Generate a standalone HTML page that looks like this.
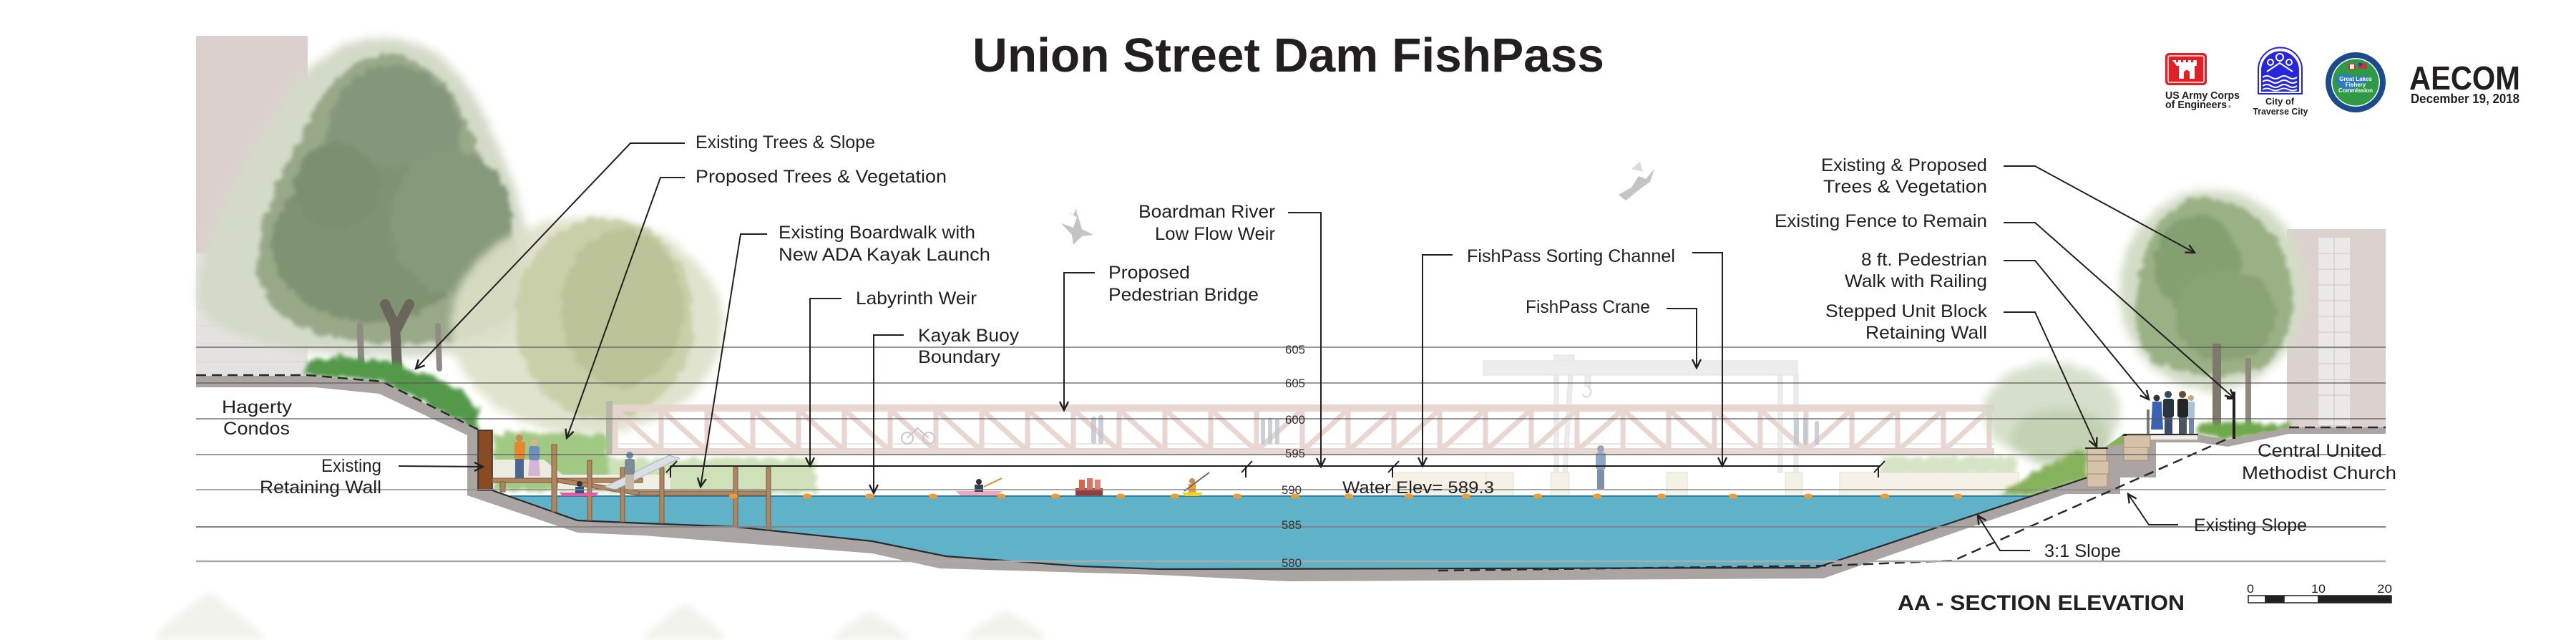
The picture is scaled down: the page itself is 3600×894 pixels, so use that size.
<!DOCTYPE html>
<html><head><meta charset="utf-8"><style>
html,body{margin:0;padding:0;background:#fff;}
body{width:3600px;height:894px;overflow:hidden;}
svg{display:block;}
text{font-family:"Liberation Sans",sans-serif;fill:#231f20;}
.l{font-size:25px;}
.n{font-size:17px;fill:#333;}
</style></head><body>
<svg width="3600" height="894" viewBox="0 0 3600 894" xmlns="http://www.w3.org/2000/svg">
<defs>
<marker id="ar" viewBox="0 0 16 16" refX="14" refY="8" markerWidth="16" markerHeight="16" markerUnits="userSpaceOnUse" orient="auto"><path d="M2,2 L14,8 L2,14" fill="none" stroke="#231f20" stroke-width="2.4"/></marker>
<filter id="leaf" x="-20%" y="-20%" width="140%" height="140%">
 <feTurbulence type="fractalNoise" baseFrequency="0.08" numOctaves="2" seed="3" result="n"/>
 <feDisplacementMap in="SourceGraphic" in2="n" scale="16" xChannelSelector="R" yChannelSelector="G"/>
 <feGaussianBlur stdDeviation="3"/>
</filter>
<filter id="soft" x="-20%" y="-20%" width="140%" height="140%">
 <feTurbulence type="fractalNoise" baseFrequency="0.1" numOctaves="2" seed="7" result="n"/>
 <feDisplacementMap in="SourceGraphic" in2="n" scale="12" xChannelSelector="R" yChannelSelector="G"/>
 <feGaussianBlur stdDeviation="6"/>
</filter>
<filter id="bl"><feGaussianBlur stdDeviation="5"/></filter>
</defs>

<!-- bottom faded trees -->
<g fill="#eef0e8" opacity="0.85" filter="url(#bl)">
<path d="M293,827 C320,850 355,870 370,894 L215,894 C228,870 262,850 293,827Z"/>
<path d="M958,843 C980,860 1008,878 1016,894 L900,894 C910,875 935,858 958,843Z"/>
<path d="M1216,853 C1236,866 1262,880 1270,894 L1163,894 C1172,880 1196,866 1216,853Z"/>
<path d="M1406,852 C1428,866 1455,880 1464,894 L1348,894 C1357,880 1382,866 1406,852Z"/>
</g>

<!-- left building -->
<rect x="274" y="50" width="156" height="304" fill="#dcd0ce"/>
<rect x="274" y="354" width="156" height="171" fill="#e4e2e0"/>
<g stroke="#d8d5d3" stroke-width="1"><path d="M274,380H430M274,405H430M274,430H430M274,455H430M274,480H430M274,505H430"/></g>

<!-- left big tree -->
<g filter="url(#soft)">
 <path d="M275,420 C280,330 330,240 380,170 C410,100 470,52 540,52 C610,55 660,110 690,190 C730,270 750,360 740,430 C720,480 640,500 540,498 C430,496 300,480 275,420Z" fill="#d3dac8"/>
</g>
<g filter="url(#leaf)">
 <path d="M360,380 C360,300 400,230 430,170 C460,110 500,75 545,75 C600,80 640,130 665,200 C700,280 735,350 730,420 C700,470 620,485 540,480 C450,478 370,450 360,380Z" fill="#98a988"/>
 <ellipse cx="550" cy="200" rx="95" ry="110" fill="#84977a"/>
 <ellipse cx="520" cy="340" rx="140" ry="110" fill="#7f9271"/>
 <ellipse cx="630" cy="310" rx="85" ry="100" fill="#86997a"/>
 <circle cx="470" cy="260" r="60" fill="#7c8f70"/>
</g>
<g stroke="#6a665c" fill="none" stroke-linecap="round">
 <path d="M555,512 L552,455 L538,425 M553,462 L572,425" stroke-width="14"/>
 <path d="M505,512 L503,455" stroke="#8e8c84" stroke-width="9"/>
 <path d="M614,515 L612,455" stroke="#8e8c84" stroke-width="8"/>
</g>

<!-- second faded tree -->
<g filter="url(#soft)" opacity="0.9">
 <ellipse cx="820" cy="455" rx="190" ry="152" fill="#dde0c8"/>
</g>
<g filter="url(#leaf)" opacity="0.85">
 <ellipse cx="845" cy="445" rx="125" ry="140" fill="#c6cca2"/>
 <ellipse cx="870" cy="430" rx="85" ry="110" fill="#b6be90"/>
</g>
<rect x="847" y="560" width="9" height="75" fill="#bab6aa"/>

<!-- right building -->
<rect x="3196" y="320" width="138" height="277" fill="#dbd1ce"/>
<rect x="3240" y="332" width="44" height="262" fill="#ebe8e7"/>
<g stroke="#cfc6c3"><path d="M3240,354H3284M3240,376H3284M3240,398H3284M3240,420H3284M3240,442H3284M3240,464H3284M3240,486H3284M3240,508H3284M3240,530H3284M3240,552H3284M3262,332V594"/></g>

<!-- right tree -->
<g filter="url(#soft)">
 <ellipse cx="3092" cy="405" rx="130" ry="140" fill="#d3dcc6"/>
</g>
<g filter="url(#leaf)">
 <path d="M2985,440 C2985,360 3010,300 3060,278 C3110,270 3170,300 3195,360 C3215,420 3200,490 3160,515 C3110,530 3040,525 3005,500 C2990,485 2985,465 2985,440Z" fill="#9ab185"/>
 <ellipse cx="3070" cy="370" rx="60" ry="70" fill="#84a070"/>
 <ellipse cx="3110" cy="440" rx="70" ry="65" fill="#89a375"/>
</g>
<rect x="3092" y="480" width="12" height="122" fill="#7e796c"/>
<rect x="3138" y="500" width="8" height="100" fill="#8e8a7e"/>

<!-- crane -->
<g fill="#ececec" stroke="#e2e2e2" stroke-width="1">
 <rect x="2073" y="504" width="439" height="20"/>
 <rect x="2172" y="496" width="28" height="8"/>
 <rect x="2172" y="524" width="6" height="136"/>
 <path d="M2192,524 L2198,524 L2190,660 L2184,660Z"/>
 <rect x="2485" y="524" width="6" height="136"/>
 <rect x="2507" y="524" width="6" height="136"/>
 <rect x="2215" y="524" width="8" height="16"/>
</g>
<path d="M2219,540 q8,6 2,13 q-6,4 -9,-2" fill="none" stroke="#d8d8d8" stroke-width="2"/>

<!-- bridge -->
<g opacity="0.95">
<rect x="857" y="565" width="1930" height="10" fill="#e7d5cf"/>
<rect x="857" y="626" width="1930" height="10" fill="#e7d5cf"/>
<path d="M857,620H2787" stroke="#efe4e0" stroke-width="2"/>
<path stroke="#e7d5cf" stroke-width="7" fill="none" d="M860,570V632M924,570V632M988,570V632M1052,570V632M1116,570V632M1180,570V632M1244,570V632M1308,570V632M1372,570V632M1436,570V632M1500,570V632M1564,570V632M1628,570V632M1692,570V632M1756,570V632M1820,570V632M1884,570V632M1948,570V632M2012,570V632M2076,570V632M2140,570V632M2204,570V632M2268,570V632M2332,570V632M2396,570V632M2460,570V632M2524,570V632M2588,570V632M2652,570V632M2716,570V632M2780,570V632"/>
<path stroke="#e7d5cf" stroke-width="7" fill="none" d="M860,572L924,630M924,572L988,630M988,572L1052,630M1052,572L1116,630M1116,572L1180,630M1180,572L1244,630M1244,572L1308,630M1308,572L1372,630M1372,572L1436,630M1436,572L1500,630M1500,572L1564,630M1564,572L1628,630M1628,572L1692,630M1692,572L1756,630M1756,630L1820,572M1820,630L1884,572M1884,630L1948,572M1948,630L2012,572M2012,630L2076,572M2076,630L2140,572M2140,630L2204,572M2204,630L2268,572M2268,572L2332,630M2332,572L2396,630M2396,572L2460,630M2460,572L2524,630M2524,630L2588,572M2588,630L2652,572M2652,630L2716,572M2716,630L2780,572"/>
</g>
<!-- faint people on bridge -->
<g fill="#bfc5cf" opacity="0.8">
 <rect x="1525" y="582" width="7" height="38" rx="3"/><rect x="1535" y="580" width="7" height="40" rx="3"/>
 <rect x="1762" y="585" width="6" height="36" rx="3"/><rect x="1772" y="583" width="6" height="38" rx="3"/><rect x="1782" y="585" width="6" height="36" rx="3"/>
 <rect x="2507" y="586" width="7" height="36" rx="3"/><rect x="2520" y="584" width="6" height="38" rx="3"/>
 <rect x="2536" y="588" width="6" height="34" rx="3"/>
</g>
<g fill="none" stroke="#c8c8c8" stroke-width="2"><circle cx="1268" cy="612" r="8"/><circle cx="1298" cy="612" r="8"/><path d="M1268,612 L1282,598 L1298,612"/></g>

<!-- right faded bush -->
<g filter="url(#soft)" opacity="0.8">
 <ellipse cx="2868" cy="575" rx="95" ry="68" fill="#ccd8bf"/>
 <ellipse cx="2880" cy="610" rx="70" ry="40" fill="#b3c7a0"/>
</g>

<!-- grass areas -->
<g filter="url(#leaf)">
 <rect x="690" y="605" width="160" height="80" fill="#a2c983"/>
 <rect x="850" y="640" width="290" height="50" fill="#c6dcad" opacity="0.85"/>
 <rect x="2627" y="638" width="190" height="26" fill="#d5e4c4"/>
</g>
<path d="M689,642 L760,642 L792,668 L689,668Z" fill="#ecebe0"/>
<rect x="780" y="663" width="157" height="22" fill="#f0efe6"/>

<!-- left hedge -->
<path d="M420,524 L430,505 L480,498 L540,505 L600,522 L648,548 L668,572 L668,601 L534,533 L430,524Z" fill="#52994a" filter="url(#leaf)"/>

<!-- pale piers -->
<g fill="#f4f2e6" stroke="#e3dfcf" stroke-width="1">
 <rect x="1946" y="660" width="131" height="33"/>
 <rect x="2077" y="660" width="38" height="33"/>
 <rect x="2167" y="660" width="26" height="33"/>
 <rect x="2329" y="660" width="29" height="33"/>
 <rect x="2495" y="660" width="24" height="33"/>
 <rect x="2571" y="660" width="250" height="33"/>
</g>

<!-- right vegetation -->
<path d="M2790,695 L2840,660 L2880,640 L2917,625 L2917,668 L2839,694Z" fill="#86b25c" filter="url(#leaf)"/>
<path d="M2940,626 L2968,606 L2968,624Z" fill="#86b25c"/>
<path d="M3072,592 L3120,590 L3199,592 L3199,600 L3113,614 L3072,607Z" fill="#6fa84e" filter="url(#leaf)"/>

<!-- ground band -->
<path fill="#aaa5a2" d="M274,525 L430,525 L534,533 L668,601 L668,685 L688,685 L807,727 L900,731 L1029,736 L1219,756 L1322,777 L1511,791 L1620,795 L2538,793 L2917,667 L2917,628 L2968,620 L2968,607 L3072,607 L3113,614 L3199,597 L3334,597 L3334,606 L3199,606 L3113,624 L3072,618 L3013,618 L3013,667 L2963,667 L2963,690 L2887,690 L2548,808 L1800,812 L1618,803 L1313,794 L1219,773 L900,748 L807,744 L653,692 L653,608 L530,550 L440,541 L274,541Z"/>

<!-- water -->
<path fill="#60b2c9" d="M713,693 L2839,693 L2538,793 L1620,795 L1511,791 L1322,777 L1219,756 L1029,736 L900,731 L807,727Z"/>
<path d="M713,693 H2839" stroke="#2f7fa3" stroke-width="2"/>
<path d="M688,685 L807,727 L900,731 L1029,736 L1219,756 L1322,777 L1511,791 L1620,795 L2538,793 L2917,667" fill="none" stroke="#2a2a2a" stroke-width="2.2"/>
<path d="M2968,607 H3072" stroke="#2a2a2a" stroke-width="2.2"/>
<rect x="3005" y="608" width="66" height="6" fill="#efeee4"/>

<!-- retaining wall left -->
<rect x="668" y="601" width="20" height="84" fill="#8b4a22" stroke="#2a2a2a" stroke-width="1.5"/>

<!-- stepped blocks -->
<g fill="#d6c2a8" stroke="#a48e74" stroke-width="1">
 <rect x="2917" y="626" width="27" height="18"/><rect x="2917" y="644" width="30" height="18"/><rect x="2917" y="662" width="28" height="18"/>
 <rect x="2968" y="608" width="37" height="17"/><rect x="2968" y="625" width="34" height="18"/>
</g>
<path d="M2914,626 H2946 M2966,608 H2972" stroke="#2a2a2a" stroke-width="2"/>

<!-- boardwalk -->
<g fill="#b08660" stroke="#7d5a3a" stroke-width="1">
 <rect x="688" y="668" width="210" height="6"/>
 <path d="M780,668 L893,686 L893,692 L780,674Z"/>
 <rect x="893" y="686" width="184" height="6"/>
 <rect x="771" y="621" width="7" height="94"/>
 <rect x="821" y="643" width="6" height="84"/>
 <rect x="867" y="653" width="6" height="76"/>
 <rect x="922" y="653" width="6" height="78"/>
 <rect x="1025" y="653" width="6" height="83"/>
 <rect x="1071" y="653" width="6" height="87"/>
 <rect x="699" y="673" width="7" height="14"/>
</g>

<!-- people left -->
<g>
 <circle cx="726" cy="612" r="5" fill="#c98a55"/>
 <rect x="719" y="617" width="15" height="24" rx="3" fill="#e8882a"/>
 <rect x="720" y="641" width="12" height="27" fill="#4d6690"/>
 <circle cx="746" cy="618" r="5" fill="#d7b48a"/>
 <rect x="739" y="623" width="15" height="20" rx="3" fill="#6d8fbf"/>
 <path d="M740,643 L753,643 L755,665 L738,665Z" fill="#d8b3d8"/>
 <path d="M845,680 L935,636 L950,640 L860,684Z" fill="#d9dfe4" stroke="#aab4bc"/>
 <circle cx="880" cy="636" r="5" fill="#6c8fb0"/>
 <rect x="873" y="641" width="14" height="22" rx="3" fill="#7d8b96"/>
 <rect x="874" y="663" width="12" height="20" fill="#c8b8a8"/>
 <path d="M782,688 L837,688 L832,693 L786,693Z" fill="#e85a9a"/>
 <circle cx="810" cy="676" r="4" fill="#333"/><rect x="804" y="680" width="12" height="9" fill="#2c4f8a"/>
</g>

<!-- kayaks -->
<g>
 <path d="M1336,686 L1400,686 L1394,692 L1342,692Z" fill="#f0a8c0"/>
 <circle cx="1368" cy="673" r="4" fill="#333"/><rect x="1362" y="677" width="12" height="10" fill="#35465c"/>
 <path d="M1375,680 L1400,668" stroke="#e08a30" stroke-width="2"/>
 <rect x="1503" y="682" width="38" height="10" fill="#9b3a35"/>
 <rect x="1508" y="670" width="8" height="13" fill="#e0604a"/><rect x="1519" y="668" width="8" height="15" fill="#e27060"/><rect x="1530" y="670" width="8" height="13" fill="#e08070"/>
 <path d="M1652,688 L1681,688 L1676,693 L1656,693Z" fill="#f2d020"/>
 <circle cx="1666" cy="672" r="4" fill="#c98a55"/><rect x="1661" y="676" width="10" height="12" fill="#f0a030"/>
 <path d="M1655,686 L1690,660" stroke="#666" stroke-width="2"/>
</g>

<!-- person in middle -->
<g fill="#8fa8c8"><circle cx="2237" cy="627" r="5" fill="#9aa6b8"/><rect x="2230" y="632" width="14" height="24" rx="4"/><rect x="2232" y="656" width="10" height="27" fill="#7d90a8"/></g>

<!-- right people -->
<g>
 <path d="M3000,572 L3004,572 L3004,606 L3000,606Z" fill="#777"/>
 <circle cx="3014" cy="556" r="4.5" fill="#333"/><path d="M3008,561 L3021,561 L3023,600 L3006,600Z" fill="#3b63b5"/>
 <circle cx="3030" cy="551" r="5" fill="#3a4a5e"/><rect x="3023" y="557" width="15" height="26" rx="3" fill="#2c3440"/><rect x="3025" y="583" width="11" height="23" fill="#3b4b6a"/>
 <circle cx="3050" cy="551" r="5" fill="#6b4a2f"/><rect x="3043" y="557" width="15" height="26" rx="3" fill="#262626"/><rect x="3045" y="583" width="11" height="23" fill="#4a5566"/>
 <circle cx="3062" cy="556" r="4" fill="#c9a37a"/><rect x="3058" y="561" width="9" height="24" fill="#a9c0d9"/><rect x="3059" y="585" width="7" height="21" fill="#6f87a8"/>
</g>
<path d="M3122,547 V613 M3112,556 H3122" stroke="#222" stroke-width="4"/>

<!-- buoys -->
<g fill="#f29a2e">
 <ellipse cx="1025" cy="693" rx="6" ry="3.5"/><ellipse cx="1128" cy="693" rx="6" ry="3.5"/><ellipse cx="1215" cy="693" rx="6" ry="3.5"/><ellipse cx="1304" cy="693" rx="6" ry="3.5"/><ellipse cx="1399" cy="693" rx="6" ry="3.5"/><ellipse cx="1475" cy="693" rx="6" ry="3.5"/><ellipse cx="1566" cy="693" rx="6" ry="3.5"/><ellipse cx="1642" cy="693" rx="6" ry="3.5"/><ellipse cx="1729" cy="693" rx="6" ry="3.5"/>
 <ellipse cx="1810" cy="693" rx="6" ry="3.5"/><ellipse cx="1885" cy="693" rx="6" ry="3.5"/><ellipse cx="1969" cy="693" rx="6" ry="3.5"/><ellipse cx="2049" cy="693" rx="6" ry="3.5"/><ellipse cx="2149" cy="693" rx="6" ry="3.5"/><ellipse cx="2232" cy="693" rx="6" ry="3.5"/><ellipse cx="2322" cy="693" rx="6" ry="3.5"/><ellipse cx="2422" cy="693" rx="6" ry="3.5"/><ellipse cx="2527" cy="693" rx="6" ry="3.5"/><ellipse cx="2634" cy="693" rx="6" ry="3.5"/><ellipse cx="2736" cy="693" rx="6" ry="3.5"/>
</g>

<!-- birds -->
<g fill="#c4c4c4">
 <path d="M1483,312 L1500,318 L1506,300 L1512,320 L1528,328 L1512,330 L1500,342 L1498,328 Z"/>
 <path d="M1490,295 L1500,300 L1504,291 L1506,304Z"/>
 <path d="M2262,272 L2280,262 L2290,246 L2300,250 L2312,236 L2306,254 L2292,264 L2272,280Z"/>
 <path d="M2280,236 L2292,226 L2296,240Z" fill="#dadada"/>
</g>

<!-- dashed existing grades -->
<g fill="none" stroke="#2a2a2a" stroke-width="2.5" stroke-dasharray="14,8">
 <path d="M274,524 L430,524 L534,533 L668,600"/>
 <path d="M2010,797 L2560,790 L2730,783 L3113,613"/>
 <path d="M3199,597 H3334"/>
</g>

<!-- grid lines -->
<g fill="none">
 <path d="M274,485H3334M274,535H3334M274,585H3334M274,635H3334" stroke="#5a5a5a" stroke-width="1.3"/>
 <path d="M274,684H3334" stroke="#8a8a8a" stroke-width="1.5"/>
 <path d="M274,736H3334" stroke="#858585" stroke-width="2"/>
 <path d="M274,784H3334" stroke="#ababab" stroke-width="2.5"/>
</g>

<!-- dam crest line + ticks -->
<g fill="none" stroke="#1e1e1e" stroke-width="2">
 <path d="M937,651H2627"/>
 <path d="M937,651V667M931,660L946,644"/>
 <path d="M1741,651V667M1735,660L1750,644"/>
 <path d="M1946,651V667M1940,660L1955,644"/>
 <path d="M2625,651V667M2619,660L2634,644"/>
</g>

<!-- grid numbers -->
<text class="n" x="1796" y="494" textLength="28" lengthAdjust="spacingAndGlyphs">605</text>
<text class="n" x="1796" y="541" textLength="28" lengthAdjust="spacingAndGlyphs">605</text>
<text class="n" x="1796" y="592" textLength="28" lengthAdjust="spacingAndGlyphs">600</text>
<text class="n" x="1796" y="639" textLength="28" lengthAdjust="spacingAndGlyphs">595</text>
<text class="n" x="1791" y="690" textLength="28" lengthAdjust="spacingAndGlyphs">590</text>
<text class="n" x="1791" y="739" textLength="28" lengthAdjust="spacingAndGlyphs">585</text>
<text class="n" x="1791" y="792" textLength="28" lengthAdjust="spacingAndGlyphs">580</text>

<!-- leaders -->
<g fill="none" stroke="#231f20" stroke-width="2" marker-end="url(#ar)">
 <path d="M957,200 L881,200 L581,515"/>
 <path d="M957,248 L923,248 L792,612"/>
 <path d="M1072,327 L1035,327 L979,680"/>
 <path d="M1176,417 L1132,417 L1132,651"/>
 <path d="M1263,468 L1221,468 L1221,689"/>
 <path d="M1530,381 L1487,381 L1487,573"/>
 <path d="M1800,297 L1846,297 L1846,652"/>
 <path d="M2030,356 L1988,356 L1988,651"/>
 <path d="M2365,353 L2407,353 L2407,651"/>
 <path d="M2329,431 L2371,431 L2371,514"/>
 <path d="M2800,232 L2844,232 L3067,353"/>
 <path d="M2800,311 L2844,311 L3122,556"/>
 <path d="M2800,364 L2844,364 L3003,558"/>
 <path d="M2800,436 L2844,436 L2930,624"/>
 <path d="M3044,733 L3003,733 L2974,690"/>
 <path d="M2837,769 L2795,769 L2764,720"/>
 <path d="M557,651 L675,652"/>
</g>

<!-- title -->
<text x="1359" y="100" font-size="67" font-weight="bold" textLength="883" lengthAdjust="spacingAndGlyphs">Union Street Dam FishPass</text>

<!-- labels -->
<text class="l" x="972" y="207" textLength="251" lengthAdjust="spacingAndGlyphs">Existing Trees &amp; Slope</text>
<text class="l" x="972" y="255" textLength="351" lengthAdjust="spacingAndGlyphs">Proposed Trees &amp; Vegetation</text>
<text class="l" x="1088" y="333" textLength="275" lengthAdjust="spacingAndGlyphs">Existing Boardwalk with</text>
<text class="l" x="1088" y="364" textLength="296" lengthAdjust="spacingAndGlyphs">New ADA Kayak Launch</text>
<text class="l" x="1196" y="425" textLength="169" lengthAdjust="spacingAndGlyphs">Labyrinth Weir</text>
<text class="l" x="1283" y="477" textLength="141" lengthAdjust="spacingAndGlyphs">Kayak Buoy</text>
<text class="l" x="1283" y="507" textLength="115" lengthAdjust="spacingAndGlyphs">Boundary</text>
<text class="l" x="1549" y="389" textLength="114" lengthAdjust="spacingAndGlyphs">Proposed</text>
<text class="l" x="1549" y="420" textLength="210" lengthAdjust="spacingAndGlyphs">Pedestrian Bridge</text>
<text class="l" x="1591" y="304" textLength="191" lengthAdjust="spacingAndGlyphs">Boardman River</text>
<text class="l" x="1614" y="335" textLength="168" lengthAdjust="spacingAndGlyphs">Low Flow Weir</text>
<text class="l" x="2050" y="366" textLength="291" lengthAdjust="spacingAndGlyphs">FishPass Sorting Channel</text>
<text class="l" x="2132" y="437" textLength="174" lengthAdjust="spacingAndGlyphs">FishPass Crane</text>
<text x="1876" y="689" font-size="24" textLength="212" lengthAdjust="spacingAndGlyphs">Water Elev= 589.3</text>
<text class="l" x="2545" y="239" textLength="232" lengthAdjust="spacingAndGlyphs">Existing &amp; Proposed</text>
<text class="l" x="2548" y="269" textLength="229" lengthAdjust="spacingAndGlyphs">Trees &amp; Vegetation</text>
<text class="l" x="2480" y="317" textLength="297" lengthAdjust="spacingAndGlyphs">Existing Fence to Remain</text>
<text class="l" x="2601" y="371" textLength="176" lengthAdjust="spacingAndGlyphs">8 ft. Pedestrian</text>
<text class="l" x="2578" y="401" textLength="199" lengthAdjust="spacingAndGlyphs">Walk with Railing</text>
<text class="l" x="2551" y="443" textLength="226" lengthAdjust="spacingAndGlyphs">Stepped Unit Block</text>
<text class="l" x="2607" y="473" textLength="170" lengthAdjust="spacingAndGlyphs">Retaining Wall</text>
<text class="l" x="3155" y="638" textLength="174" lengthAdjust="spacingAndGlyphs">Central United</text>
<text class="l" x="3133" y="669" textLength="216" lengthAdjust="spacingAndGlyphs">Methodist Church</text>
<text class="l" x="3066" y="742" textLength="158" lengthAdjust="spacingAndGlyphs">Existing Slope</text>
<text class="l" x="2857" y="778" textLength="107" lengthAdjust="spacingAndGlyphs">3:1 Slope</text>
<text class="l" x="310" y="577" textLength="98" lengthAdjust="spacingAndGlyphs">Hagerty</text>
<text class="l" x="312" y="607" textLength="93" lengthAdjust="spacingAndGlyphs">Condos</text>
<text class="l" x="449" y="659" textLength="84" lengthAdjust="spacingAndGlyphs">Existing</text>
<text class="l" x="363" y="689" textLength="170" lengthAdjust="spacingAndGlyphs">Retaining Wall</text>

<!-- AA section title & scale -->
<text x="2652" y="852" font-size="30" font-weight="bold" textLength="401" lengthAdjust="spacingAndGlyphs">AA - SECTION ELEVATION</text>
<g stroke="#231f20" stroke-width="1.5">
 <rect x="3142" y="832" width="24" height="10" fill="#fff"/>
 <rect x="3166" y="832" width="26" height="10" fill="#231f20"/>
 <rect x="3192" y="832" width="48" height="10" fill="#fff"/>
 <rect x="3240" y="832" width="102" height="10" fill="#231f20"/>
</g>
<text x="3140" y="828" font-size="17" textLength="10" lengthAdjust="spacingAndGlyphs">0</text>
<text x="3230" y="828" font-size="17" textLength="20" lengthAdjust="spacingAndGlyphs">10</text>
<text x="3322" y="828" font-size="17" textLength="21" lengthAdjust="spacingAndGlyphs">20</text>

<!-- logos -->
<rect x="3026" y="74" width="58" height="45" rx="5" fill="#e31e24"/>
<rect x="3030" y="78" width="50" height="37" rx="2" fill="none" stroke="#fff" stroke-width="1.5"/>
<path fill="#fff" d="M3036,84h5v3h3v-3h4v3h3v-3h4v3h3v-3h4v3h3v-3h5v8h-3v18h-7v-8a4,4 0 0 0 -8,0v8h-7v-18h-3z"/>
<text x="3026" y="138" font-size="14.5" font-weight="bold" textLength="104" lengthAdjust="spacingAndGlyphs">US Army Corps</text>
<text x="3026" y="151" font-size="14.5" font-weight="bold" textLength="86" lengthAdjust="spacingAndGlyphs">of Engineers</text>
<text x="3114" y="151" font-size="5">®</text>

<path d="M3156,131 V97 A30.5,30.5 0 0 1 3217,97 V131 Z" fill="#fff" stroke="#2424d8" stroke-width="2"/>
<path d="M3160,128 V98 A26.5,26.5 0 0 1 3213,98 V128 Z" fill="#2626dc"/>
<g fill="none" stroke="#fff" stroke-width="2">
 <path d="M3162,108 q6,-4 12,0 t12,0 t12,0 t12,0"/>
 <path d="M3162,114 q6,-4 12,0 t12,0 t12,0 t12,0"/>
 <path d="M3162,120 q6,-4 12,0 t12,0 t12,0 t12,0"/>
 <path d="M3162,125 q6,-3 12,0 t12,0 t12,0 t12,0"/>
 <circle cx="3186" cy="80" r="5"/><circle cx="3173" cy="87" r="4"/><circle cx="3199" cy="87" r="4"/>
 <path d="M3168,100 L3186,88 L3204,100"/>
</g>
<text x="3186" y="146" font-size="12.5" font-weight="bold" text-anchor="middle" textLength="40" lengthAdjust="spacingAndGlyphs">City of</text>
<text x="3187" y="160" font-size="12.5" font-weight="bold" text-anchor="middle" textLength="77" lengthAdjust="spacingAndGlyphs">Traverse City</text>

<circle cx="3292" cy="115" r="42" fill="#1c4b8c"/>
<circle cx="3292" cy="115" r="34" fill="#fff"/>
<circle cx="3292" cy="115" r="32.5" fill="#2f9a46"/>
<path d="M3265,108 q10,-8 22,-2 q10,4 18,-2 q8,6 0,12 q-10,2 -16,8 q-8,6 -16,-2 q-10,-4 -8,-14Z" fill="#2b7cc4"/>
<rect x="3282" y="89" width="10" height="8" fill="#e22"/><rect x="3284" y="90" width="6" height="6" fill="#fff"/>
<rect x="3296" y="88" width="12" height="8" fill="#c33"/><rect x="3296" y="88" width="5" height="4" fill="#2a3f8f"/>
<text x="3292" y="113" font-size="8" font-weight="bold" text-anchor="middle" style="fill:#fff">Great Lakes</text>
<text x="3292" y="121" font-size="8" font-weight="bold" text-anchor="middle" style="fill:#fff">Fishery</text>
<text x="3292" y="129" font-size="8" font-weight="bold" text-anchor="middle" style="fill:#fff">Commission</text>

<text x="3367" y="125" font-size="46" font-weight="bold" textLength="155" lengthAdjust="spacingAndGlyphs">AECOM</text>
<text x="3369" y="144" font-size="18" font-weight="bold" textLength="152" lengthAdjust="spacingAndGlyphs">December 19, 2018</text>
</svg>
</body></html>
